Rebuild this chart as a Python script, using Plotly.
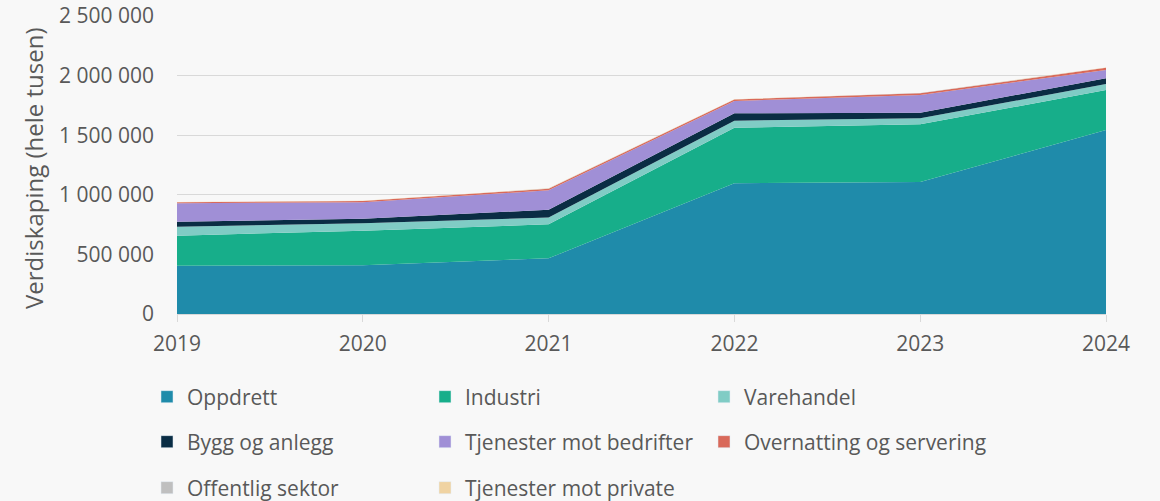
import plotly.graph_objects as go

years = [2019, 2020, 2021, 2022, 2023, 2024]

oppdrett = [405000, 408000, 467000, 1097000, 1107000, 1544000]
industri = [252000, 291000, 285000, 466000, 484000, 335000]
varehandel = [75000, 62000, 58000, 59000, 51000, 50000]
bygg = [42000, 39000, 65000, 62000, 47000, 48000]
tjen_bedrifter = [155000, 137000, 163000, 103000, 148000, 70000]
overnatting = [8000, 10000, 13000, 12000, 15000, 18000]
offentlig = [1000, 1000, 1000, 1000, 1000, 1000]
tjen_private = [2000, 2000, 2000, 2000, 2000, 2000]

series_names = ["Oppdrett", "Industri", "Varehandel", "Bygg og anlegg",
                "Tjenester mot bedrifter", "Overnatting og servering",
                "Offentlig sektor", "Tjenester mot private"]
series_values = [oppdrett, industri, varehandel, bygg, tjen_bedrifter,
                 overnatting, offentlig, tjen_private]
colors = ["#1F8BAA", "#17AE8A", "#80CCC5", "#0A2D44", "#A08FD6",
          "#D9695A", "#BFBFBF", "#F0D3A2"]

y_tickvals = [0, 500000, 1000000, 1500000, 2000000, 2500000]
y_ticktext = ["0", "500 000", "1 000 000", "1 500 000", "2 000 000", "2 500 000"]
y_title = "Verdiskaping (hele tusen)"

FONT = "Open Sans"
TXT = "#595959"
W, H = 1160, 501
ML, MR, MT, MB = 177, 54, 16, 187
PW, PH = W - ML - MR, H - MT - MB

fig = go.Figure()
for name, vals, col in zip(series_names, series_values, colors):
    fig.add_trace(go.Scatter(
        x=years, y=vals, name=name, stackgroup="one", mode="none",
        fillcolor=col, line=dict(width=0), showlegend=False,
        hoverinfo="x+y+name"))

# legend layout: 3 columns x 3 rows, one legend per entry
col_x = [147, 425, 704]
row_y = [397, 442, 488]
legend_layout = {}
for i, (name, col) in enumerate(zip(series_names, colors)):
    lid = "legend" if i == 0 else f"legend{i + 1}"
    fig.add_trace(go.Bar(x=[None], y=[None], name=name, marker_color=col,
                         legend=lid, showlegend=True))
    r, c = divmod(i, 3)
    legend_layout[lid] = dict(
        x=col_x[c] / W, y=1 - row_y[r] / H, xref="container", yref="container",
        xanchor="left", yanchor="middle", orientation="v",
        bgcolor="rgba(0,0,0,0)", itemwidth=30,
        font=dict(family=FONT, size=21, color=TXT))

fig.update_layout(
    width=W, height=H,
    margin=dict(l=ML, r=MR, t=MT, b=MB, pad=0, autoexpand=False),
    paper_bgcolor="#F8F8F8", plot_bgcolor="#F8F8F8",
    font=dict(family=FONT, size=21, color=TXT),
    barmode="overlay",
    xaxis=dict(type="linear", range=[2019, 2024], tickvals=years,
               ticktext=[str(y) for y in years], showgrid=False,
               automargin=False,
               zeroline=False, showline=True, linecolor="#D9D9D9",
               linewidth=1, ticks="outside", ticklen=7, ticklabelstandoff=4,
               tickcolor="#D9D9D9",
               tickfont=dict(size=21, color=TXT, family=FONT)),
    yaxis=dict(range=[0, 2500000], tickvals=y_tickvals, ticktext=y_ticktext,
               showgrid=True, gridcolor="#D9D9D9", gridwidth=1,
               automargin=False,
               zeroline=False, ticks="", ticklabelstandoff=22,
               tickfont=dict(size=21, color=TXT, family=FONT)),
    annotations=[dict(text=y_title, textangle=-90, showarrow=False,
                      xref="paper", yref="paper",
                      x=(33 - ML) / PW, y=(H - MB - 169) / PH,
                      xanchor="center", yanchor="middle",
                      font=dict(size=24, color=TXT, family=FONT))],
    **legend_layout,
)

fig.write_html("out.html", config={"displayModeBar": False},
               post_script="document.body.style.margin='0';")
